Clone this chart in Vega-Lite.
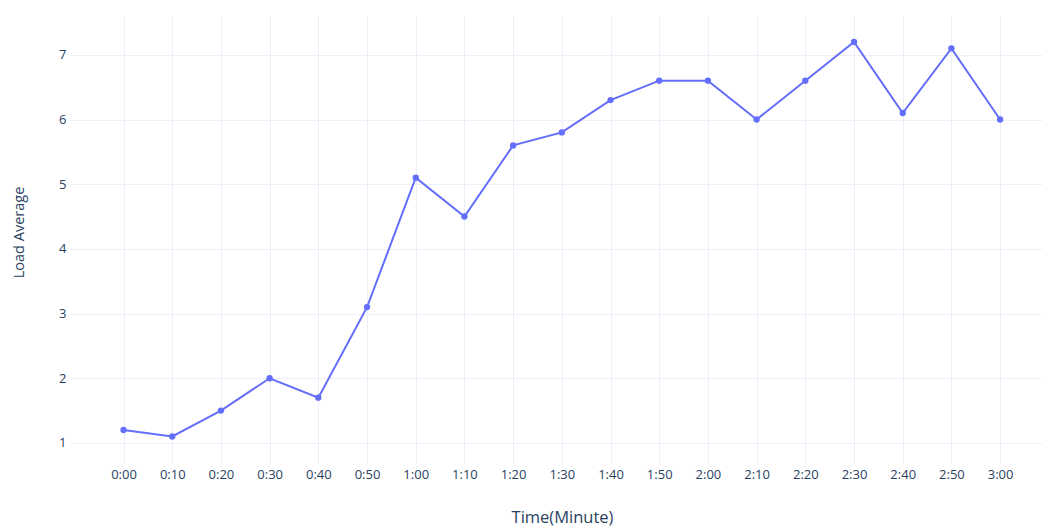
{
  "$schema": "https://vega.github.io/schema/vega-lite/v6.json",
  "autosize": {"type": "none"},
  "padding": {"left": 70, "top": 16, "right": 0, "bottom": 64},
  "width": 972,
  "height": 447,
  "background": "white",
  "config": {
    "view": {"stroke": null},
    "font": "Open Sans",
    "axis": {
      "labelFont": "Open Sans",
      "titleFont": "Open Sans",
      "labelColor": "#2a3f5f",
      "titleColor": "#2a3f5f",
      "labelFontSize": 13,
      "titleFontSize": 14.5,
      "titleFontWeight": "normal",
      "gridColor": "#ebf0f8",
      "gridWidth": 1,
      "domain": false,
      "ticks": false
    }
  },
  "data": {
    "values": [
      {"time": "0:00", "load": 1.2},
      {"time": "0:10", "load": 1.1},
      {"time": "0:20", "load": 1.5},
      {"time": "0:30", "load": 2.0},
      {"time": "0:40", "load": 1.7},
      {"time": "0:50", "load": 3.1},
      {"time": "1:00", "load": 5.1},
      {"time": "1:10", "load": 4.5},
      {"time": "1:20", "load": 5.6},
      {"time": "1:30", "load": 5.8},
      {"time": "1:40", "load": 6.3},
      {"time": "1:50", "load": 6.6},
      {"time": "2:00", "load": 6.6},
      {"time": "2:10", "load": 6.0},
      {"time": "2:20", "load": 6.6},
      {"time": "2:30", "load": 7.2},
      {"time": "2:40", "load": 6.1},
      {"time": "2:50", "load": 7.1},
      {"time": "3:00", "load": 6.0}
    ]
  },
  "encoding": {
    "x": {
      "field": "time",
      "type": "ordinal",
      "sort": null,
      "scale": {"type": "point", "padding": 0.98, "align": 0.561},
      "axis": {"labelAngle": 0, "labelPadding": 5, "title": "Time(Minute)", "titleFontSize": 16.5, "titlePadding": 28, "titleX": 492, "grid": true}
    },
    "y": {
      "field": "load",
      "type": "quantitative",
      "scale": {"domain": [0.69, 7.6], "nice": false, "zero": false},
      "axis": {"values": [1, 2, 3, 4, 5, 6, 7], "labelPadding": 4, "title": "Load Average", "titlePadding": 32, "titleY": 216, "grid": true}
    }
  },
  "layer": [
    {"mark": {"type": "line", "color": "#636efa", "strokeWidth": 2}},
    {"mark": {"type": "point", "filled": true, "color": "#636efa", "opacity": 1, "size": 40}}
  ]
}
